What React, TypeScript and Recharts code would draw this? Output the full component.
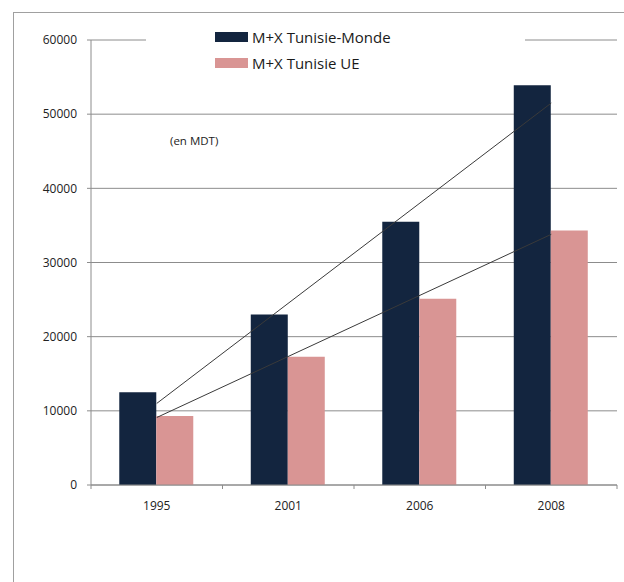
import { Bar, CartesianGrid, ComposedChart, Line, XAxis, YAxis } from 'recharts';

const years = ['1995', '2001', '2006', '2008'];
const monde = [12500, 23000, 35500, 53900];
const ue = [9300, 17300, 25100, 34300];
// trend lines read at their two ends only
const trendMonde = [11000, null, null, 51500];
const trendUe = [9100, null, null, 33800];
const yTicks = [0, 10000, 20000, 30000, 40000, 50000, 60000];

const DARK = '#13253f';
const PINK = '#d99594';
const AXIS = '#8c8c8c';
const FONT = '"Open Sans", sans-serif';

const data = years.map((year, i) => ({
  year,
  monde: monde[i],
  ue: ue[i],
  trendMonde: trendMonde[i],
  trendUe: trendUe[i],
}));

const W = 624;
const H = 582;
const plotLeft = 91;
const plotRight = 617;
const halfBand = (plotRight - plotLeft) / years.length / 2;

const legendItems = [
  { label: 'M+X Tunisie-Monde', color: DARK },
  { label: 'M+X Tunisie UE', color: PINK },
];

function LegendBox() {
  return (
    <div
      style={{
        position: 'absolute',
        left: 146,
        top: 18,
        width: 379,
        height: 62,
        background: '#fff',
        boxSizing: 'border-box',
        paddingLeft: 69,
        paddingTop: 6,
      }}
    >
      {legendItems.map((item) => (
        <div key={item.label} style={{ display: 'flex', alignItems: 'center', height: 26 }}>
          <span style={{ width: 33, height: 10, background: item.color, marginRight: 4 }} />
          <span style={{ fontFamily: FONT, fontSize: 15, color: '#1a1a1a' }}>{item.label}</span>
        </div>
      ))}
    </div>
  );
}

function YearTick(props: any) {
  const { x, y, payload, index } = props;
  const last = index === years.length - 1;
  return (
    <g>
      <line x1={x - halfBand} x2={x - halfBand} y1={y - 16} y2={y - 12} stroke={AXIS} />
      {last && <line x1={x + halfBand} x2={x + halfBand} y1={y - 16} y2={y - 12} stroke={AXIS} />}
      <text x={x} y={y} dy="0.71em" textAnchor="middle" fontFamily={FONT} fontSize={12} fill="#222">
        {payload.value}
      </text>
    </g>
  );
}

export default function App() {
  return (
    <div style={{ position: 'absolute', left: 0, top: 0, width: W, height: H, background: '#fff', overflow: 'hidden' }}>
      <div
        style={{
          position: 'absolute',
          left: 13,
          top: 12,
          width: W - 13,
          height: H - 12,
          borderLeft: '1px solid #a0a0a0',
          borderTop: '1px solid #a0a0a0',
          boxSizing: 'border-box',
        }}
      />
      <div style={{ position: 'absolute', left: 0, top: 0 }}>
        <ComposedChart
          width={W}
          height={H}
          data={data}
          margin={{ top: 40, right: W - plotRight, left: plotLeft - 60, bottom: 67 }}
          barCategoryGap="21.5%"
          barGap={0}
        >
          <CartesianGrid vertical={false} stroke={AXIS} strokeWidth={1} />
          <XAxis
            dataKey="year"
            stroke={AXIS}
            tickLine={false}
            height={30}
            tick={<YearTick />}
            tickSize={0}
            tickMargin={16}
          />
          <YAxis
            domain={[0, 60000]}
            ticks={yTicks}
            width={60}
            stroke={AXIS}
            tickSize={4}
            tickMargin={10}
            tick={{ fontFamily: FONT, fontSize: 12, fill: '#222' }}
          />
          <Bar dataKey="monde" name="M+X Tunisie-Monde" fill={DARK} isAnimationActive={false} />
          <Bar dataKey="ue" name="M+X Tunisie UE" fill={PINK} isAnimationActive={false} />
          <Line
            dataKey="trendMonde"
            stroke="#3a3a3a"
            strokeWidth={1}
            dot={false}
            connectNulls
            isAnimationActive={false}
          />
          <Line
            dataKey="trendUe"
            stroke="#3a3a3a"
            strokeWidth={1}
            dot={false}
            connectNulls
            isAnimationActive={false}
          />
        </ComposedChart>
      </div>
      <LegendBox />
      <div
        style={{ position: 'absolute', left: 170, top: 133, fontFamily: FONT, fontSize: 11.5, color: '#222' }}
      >
        (en MDT)
      </div>
    </div>
  );
}
